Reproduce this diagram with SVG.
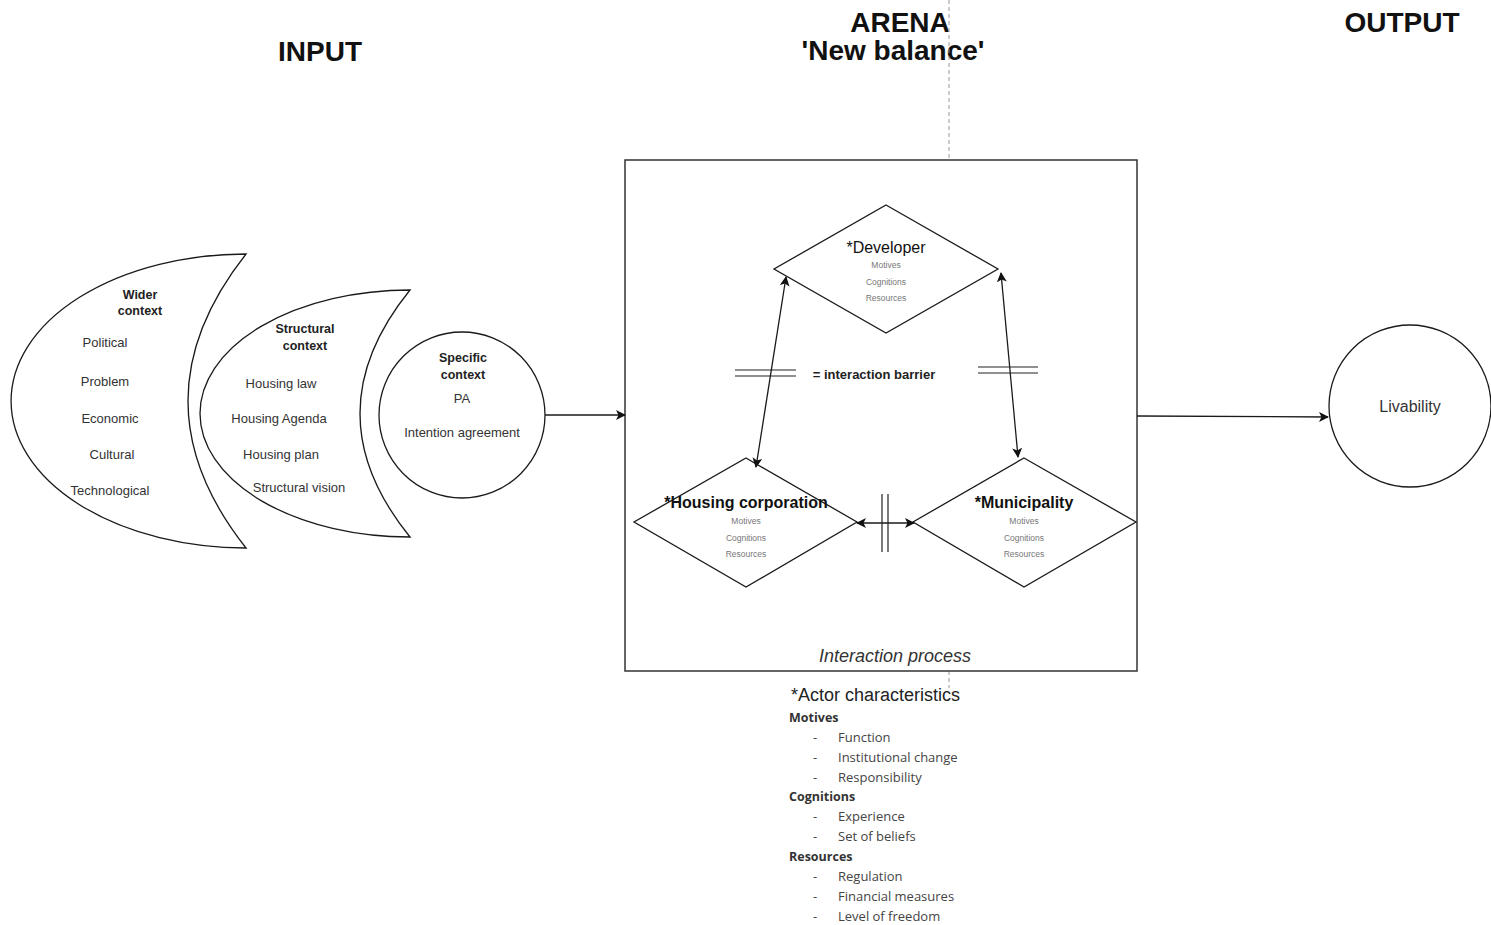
<svg xmlns="http://www.w3.org/2000/svg" width="1491" height="925" viewBox="0 0 1491 925">
  <style>
    .shape { fill: #ffffff; stroke: #1a1a1a; stroke-width: 1.3; }
    .line { fill: none; stroke: #1a1a1a; stroke-width: 1.3; }
    .bar { fill: none; stroke: #222; stroke-width: 1.2; }
    .head { font-family: "Liberation Sans", Arial, sans-serif; font-weight: bold; font-size: 28px; fill: #111; text-anchor: middle; }
    .ttl { font-family: "Liberation Sans", Arial, sans-serif; font-weight: bold; font-size: 12.5px; fill: #222; text-anchor: middle; }
    .item { font-family: "Liberation Sans", Arial, sans-serif; font-size: 13px; fill: #333; text-anchor: middle; }
    .actor { font-family: "Liberation Sans", Arial, sans-serif; font-size: 16px; fill: #111; text-anchor: middle; }
    .sub { font-family: "Liberation Sans", Arial, sans-serif; font-size: 8.5px; fill: #777; text-anchor: middle; }
    .list { font-family: "Open Sans", Lato, sans-serif; font-size: 13px; fill: #444; }
    .listb { font-family: "Open Sans", Lato, sans-serif; font-size: 12.5px; font-weight: bold; fill: #333; }
  </style>
  <defs>
    <marker id="arrow" viewBox="0 0 10 10" refX="9" refY="5" markerWidth="10" markerHeight="10" markerUnits="userSpaceOnUse" orient="auto-start-reverse">
      <path d="M0,0 L10,5 L0,10 L2.5,5 Z" fill="#111"/>
    </marker>
  </defs>

  <rect width="1491" height="925" fill="#ffffff"/>

  <!-- column headings -->
  <text class="head" x="320" y="61">INPUT</text>
  <text class="head" x="900" y="32">ARENA</text>
  <text class="head" x="893" y="60">'New balance'</text>
  <text class="head" x="1402" y="32">OUTPUT</text>

  <!-- dashed divider -->
  <g id="divider" stroke="#9a9a9a" stroke-width="1" stroke-dasharray="4 3">
    <line x1="949" y1="0" x2="949" y2="160"/>
    <line x1="949" y1="671" x2="949" y2="688"/>
  </g>

  <!-- wider context -->
  <g id="wider-context">
    <path class="shape" d="M246,254 A235,147 0 0 0 246,548 Q130,401 246,254 Z"/>
    <text class="ttl" x="140" y="299">Wider</text>
    <text class="ttl" x="140" y="315">context</text>
    <text class="item" x="105" y="347">Political</text>
    <text class="item" x="105" y="386">Problem</text>
    <text class="item" x="110" y="423">Economic</text>
    <text class="item" x="112" y="459">Cultural</text>
    <text class="item" x="110" y="495">Technological</text>
  </g>

  <!-- structural context -->
  <g id="structural-context">
    <path class="shape" d="M410,290 A210,123.5 0 0 0 410,537 Q310,413.5 410,290 Z"/>
    <text class="ttl" x="305" y="333">Structural</text>
    <text class="ttl" x="305" y="350">context</text>
    <text class="item" x="281" y="388">Housing law</text>
    <text class="item" x="279" y="423">Housing Agenda</text>
    <text class="item" x="281" y="459">Housing plan</text>
    <text class="item" x="299" y="492">Structural vision</text>
  </g>

  <!-- specific context -->
  <g id="specific-context">
    <circle class="shape" cx="462" cy="415" r="83"/>
    <text class="ttl" x="463" y="362">Specific</text>
    <text class="ttl" x="463" y="379">context</text>
    <text class="item" x="462" y="403">PA</text>
    <text class="item" x="462" y="437">Intention agreement</text>
  </g>

  <!-- arena -->
  <g id="arena">
    <rect x="625" y="160" width="512" height="511" fill="none" stroke="#333" stroke-width="1.5"/>
    <text x="895" y="662" font-family="Liberation Sans, Arial, sans-serif" font-style="italic" font-size="18" fill="#333" text-anchor="middle">Interaction process</text>
  </g>

  <g id="developer">
    <polygon class="shape" points="886,205 998,269 886,333 774,269"/>
    <text class="actor" x="886" y="253">*Developer</text>
    <text class="sub" x="886" y="268">Motives</text>
    <text class="sub" x="886" y="285">Cognitions</text>
    <text class="sub" x="886" y="301">Resources</text>
  </g>

  <g id="housing-corporation">
    <polygon class="shape" points="746,458 857,522 746,587 634,522"/>
    <text class="actor" x="746" y="508" font-weight="bold">*Housing corporation</text>
    <text class="sub" x="746" y="524">Motives</text>
    <text class="sub" x="746" y="541">Cognitions</text>
    <text class="sub" x="746" y="557">Resources</text>
  </g>

  <g id="municipality">
    <polygon class="shape" points="1024,458 1136,522 1024,587 913,522"/>
    <text class="actor" x="1024" y="508" font-weight="bold">*Municipality</text>
    <text class="sub" x="1024" y="524">Motives</text>
    <text class="sub" x="1024" y="541">Cognitions</text>
    <text class="sub" x="1024" y="557">Resources</text>
  </g>

  <g id="barrier-legend">
    <line class="bar" x1="735" y1="370" x2="796" y2="370"/>
    <line class="bar" x1="735" y1="376" x2="796" y2="376"/>
    <text x="874" y="379" font-family="Liberation Sans, Arial, sans-serif" font-weight="bold" font-size="13" fill="#222" text-anchor="middle">= interaction barrier</text>
  </g>

  <!-- output -->
  <g id="livability">
    <circle class="shape" cx="1410" cy="406" r="81"/>
    <text x="1410" y="412" font-family="Liberation Sans, Arial, sans-serif" font-size="16" fill="#333" text-anchor="middle">Livability</text>
  </g>

  <!-- connectors -->
  <g id="connectors">
    <line class="line" x1="545" y1="415" x2="625" y2="415" marker-end="url(#arrow)"/>
    <line class="line" x1="1137" y1="416" x2="1328" y2="417" marker-end="url(#arrow)"/>
    <line class="line" x1="786" y1="277" x2="756" y2="467" marker-start="url(#arrow)" marker-end="url(#arrow)"/>
    <line class="line" x1="1001" y1="273" x2="1018" y2="457" marker-start="url(#arrow)" marker-end="url(#arrow)"/>
    <line class="line" x1="857" y1="523" x2="914" y2="523" marker-start="url(#arrow)" marker-end="url(#arrow)"/>
    <!-- barrier marks across the relations -->
    <line class="bar" x1="978" y1="367" x2="1038" y2="367"/>
    <line class="bar" x1="978" y1="373" x2="1038" y2="373"/>
    <line class="bar" x1="882" y1="494" x2="882" y2="552"/>
    <line class="bar" x1="888" y1="494" x2="888" y2="552"/>
  </g>

  <!-- actor characteristics legend -->
  <g id="actor-characteristics">
    <text x="791" y="701" font-family="Liberation Sans, Arial, sans-serif" font-size="18" fill="#222">*Actor characteristics</text>
    <text class="listb" x="789" y="722">Motives</text>
    <text class="list" x="813" y="742">-</text><text class="list" x="838" y="742">Function</text>
    <text class="list" x="813" y="762">-</text><text class="list" x="838" y="762">Institutional change</text>
    <text class="list" x="813" y="782">-</text><text class="list" x="838" y="782">Responsibility</text>
    <text class="listb" x="789" y="801">Cognitions</text>
    <text class="list" x="813" y="821">-</text><text class="list" x="838" y="821">Experience</text>
    <text class="list" x="813" y="841">-</text><text class="list" x="838" y="841">Set of beliefs</text>
    <text class="listb" x="789" y="861">Resources</text>
    <text class="list" x="813" y="881">-</text><text class="list" x="838" y="881">Regulation</text>
    <text class="list" x="813" y="901">-</text><text class="list" x="838" y="901">Financial measures</text>
    <text class="list" x="813" y="921">-</text><text class="list" x="838" y="921">Level of freedom</text>
  </g>
</svg>
